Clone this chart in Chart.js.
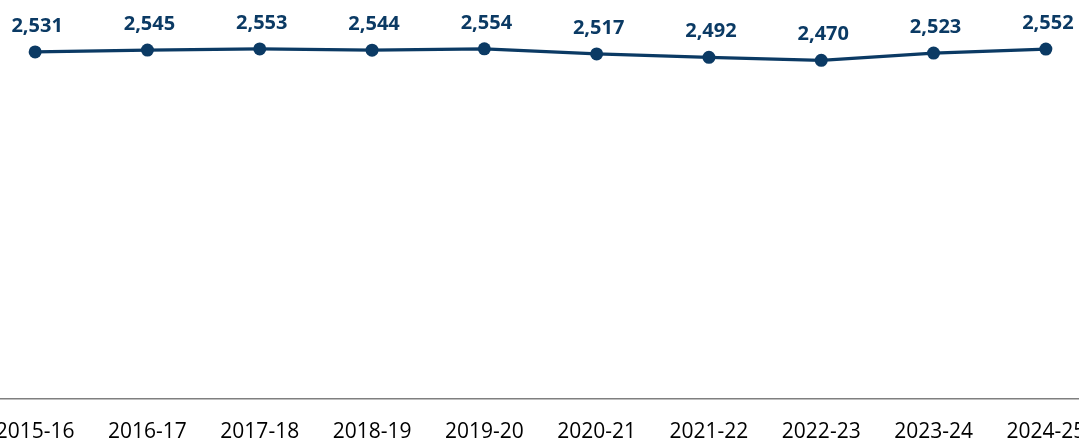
<!DOCTYPE html>
<html>
<head>
<meta charset="utf-8">
<script src="https://cdn.jsdelivr.net/npm/chart.js@4/dist/chart.umd.min.js"></script>
<style>
  html, body { margin: 0; padding: 0; background: #fff; overflow: hidden; }
  #wrap { position: absolute; left: -21px; top: 0; width: 1123px; height: 440px; }
</style>
</head>
<body>
<div id="wrap"><canvas id="chart"></canvas></div>
<script>
const years = ['2015-16','2016-17','2017-18','2018-19','2019-20','2020-21','2021-22','2022-23','2023-24','2024-25'];
const counts = [2531, 2545, 2553, 2544, 2554, 2517, 2492, 2470, 2523, 2552];

const navy = '#0b3a64';

// labels above each point, taken from the library's point positions
const valueLabels = {
  id: 'valueLabels',
  afterDatasetsDraw(chart) {
    const ctx = chart.ctx;
    const meta = chart.getDatasetMeta(0);
    ctx.save();
    ctx.font = 'bold 20px "Open Sans"';
    ctx.fillStyle = navy;
    ctx.textAlign = 'center';
    ctx.textBaseline = 'alphabetic';
    meta.data.forEach((pt, i) => {
      ctx.fillText(counts[i].toLocaleString('en-US'), pt.x + 2, pt.y - 20);
    });
    ctx.restore();
  }
};

new Chart(document.getElementById('chart'), {
  type: 'line',
  data: {
    labels: years,
    datasets: [{
      data: counts,
      borderColor: navy,
      backgroundColor: navy,
      borderWidth: 3.2,
      pointRadius: 6.5,
      pointBackgroundColor: navy,
      pointBorderWidth: 0,
      tension: 0,
      clip: false
    }]
  },
  options: {
    responsive: true,
    maintainAspectRatio: false,
    animation: false,
    layout: { padding: 0, autoPadding: false },
    plugins: { legend: { display: false }, tooltip: { enabled: false } },
    scales: {
      x: {
        offset: true,
        grid: { display: false, drawTicks: false },
        border: { display: true, color: '#7f7f7f', width: 1.5 },
        ticks: {
          color: '#000',
          padding: 20,
          maxRotation: 0,
          autoSkip: false,
          font: { family: '"Open Sans"', size: 21 }
        },
        afterFit(scale) {
          scale.paddingLeft = 0;
          scale.paddingRight = 0;
          scale.height = 41;
        }
      },
      y: {
        display: false,
        min: 0,
        max: 2910
      }
    }
  },
  plugins: [valueLabels]
});
</script>
</body>
</html>
